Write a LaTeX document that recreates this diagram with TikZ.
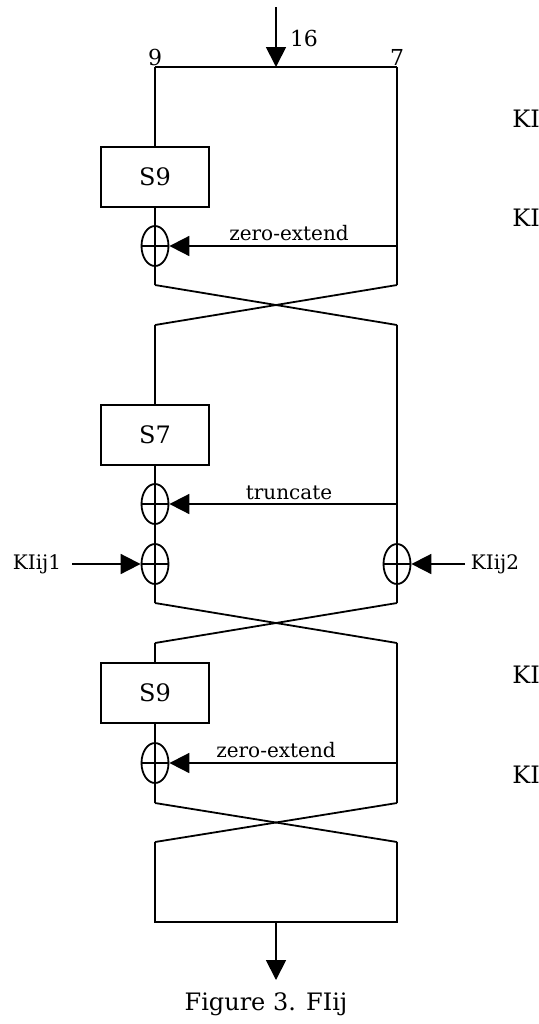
\documentclass[tikz,border=0pt]{standalone}
\usepackage{fontspec}
\setmainfont{DejaVu Serif}
\usetikzlibrary{arrows.meta,positioning,shapes.geometric}
\tikzset{
sbox/.style={draw,line width=.9pt,minimum width=54pt,minimum height=30pt,font=\fontsize{12}{14}\selectfont},
xor/.style={draw,ellipse,line width=.9pt,minimum width=13.5pt,minimum height=20pt,inner sep=0pt,path picture={\draw[line width=.9pt](path picture bounding box.west)--(path picture bounding box.east)(path picture bounding box.north)--(path picture bounding box.south);}},
wire/.style={line width=.9pt},
flow/.style={-{Triangle[length=10pt,width=10pt]},line width=.9pt},
lbl/.style={font=\fontsize{10}{12}\selectfont,inner sep=0pt},
bits/.style={font=\fontsize{11}{13}\selectfont,inner sep=0pt,anchor=base},
side/.style={font=\fontsize{12}{14}\selectfont,inner sep=0pt,anchor=west}
}
\begin{document}
\begin{tikzpicture}[x=.5pt,y=-.5pt]
\useasboundingbox (0,0) rectangle (538,1024);
% feistel wires
\coordinate(in)at(276,7);\coordinate(tm)at(276,67);\coordinate(tl)at(155,67);\coordinate(tr)at(397,67);
\coordinate(c1a)at(155,285);\coordinate(c1b)at(397,285);\coordinate(c1c)at(155,325);\coordinate(c1d)at(397,325);
\coordinate(c2a)at(155,603);\coordinate(c2b)at(397,603);\coordinate(c2c)at(155,643);\coordinate(c2d)at(397,643);
\coordinate(c3a)at(155,803);\coordinate(c3b)at(397,803);\coordinate(c3c)at(155,842);\coordinate(c3d)at(397,842);
\coordinate(bl)at(155,922);\coordinate(br)at(397,922);\coordinate(bm)at(276,922);\coordinate(out)at(276,980);
\coordinate(t1)at(397,246);\coordinate(t2)at(397,504);\coordinate(t3)at(397,763);
\coordinate(k1)at(72,564);\coordinate(k2)at(465,564);
\node[sbox](s9a)at(155,177){S9};
\node[sbox](s7)at(155,435){S7};
\node[sbox](s9b)at(155,693){S9};
\draw[wire](tl)--(tr);\draw[wire](tl)--(s9a.north);\draw[wire](s9a.south)--(c1a);\draw[wire](tr)--(c1b);
\draw[wire](c1a)--(c1d);\draw[wire](c1b)--(c1c);
\draw[wire](c1c)--(s7.north);\draw[wire](s7.south)--(c2a);\draw[wire](c1d)--(c2b);
\draw[wire](c2a)--(c2d);\draw[wire](c2b)--(c2c);
\draw[wire](c2c)--(s9b.north);\draw[wire](s9b.south)--(c3a);\draw[wire](c2d)--(c3b);
\draw[wire](c3a)--(c3d);\draw[wire](c3b)--(c3c);
\draw[wire](c3c)--(bl)--(br)--(c3d);
\node[xor,fill=white](x1)at(155,246){};
\node[xor,fill=white](x2)at(155,504){};
\node[xor,fill=white](x3)at(155,564){};
\node[xor,fill=white](x4)at(397,564){};
\node[xor,fill=white](x5)at(155,763){};
\draw[flow](in)--(tm);\draw[flow](bm)--(out);
\draw[flow](t1)--(x1);\draw[flow](t2)--(x2);\draw[flow](t3)--(x5);
\draw[flow](k1)--(x3);\draw[flow](k2)--(x4);
% labels
\node[bits](n16)at(304,46){16};
\node[bits](n9)at(155,65){9};
\node[bits](n7)at(397,65){7};
\node[lbl,anchor=base](ze1)at(289,240){zero-extend};
\node[lbl,anchor=base](tr1)at(289,499){truncate};
\node[lbl,anchor=base](ze2)at(276,757){zero-extend};
\node[lbl](kij1)at(37,564){KIij1};
\node[lbl](kij2)at(495,564){KIij2};
\node[side](ki1)at(512,119){KI};
\node[side](ki2)at(512,218){KI};
\node[side](ki3)at(512,675){KI};
\node[side](ki4)at(512,775){KI};
\node[anchor=base,font=\fontsize{12}{14}\selectfont,inner sep=0pt](cap)at(266,1010){Figure 3. FIij};
\end{tikzpicture}
\end{document}
